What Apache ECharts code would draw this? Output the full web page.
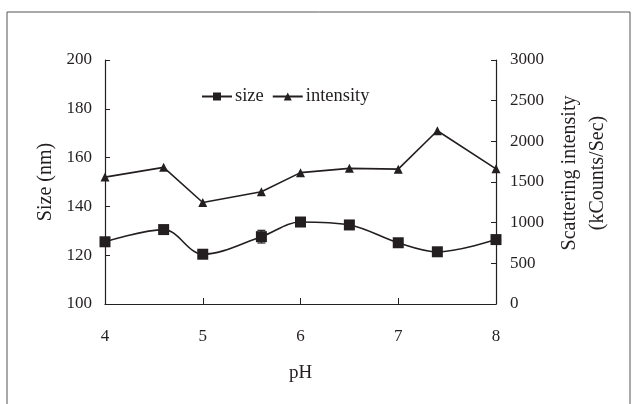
<!DOCTYPE html>
<html>
<head>
<meta charset="utf-8">
<script src="https://cdn.jsdelivr.net/npm/echarts@6/dist/echarts.min.js"></script>
<style>
  html, body { margin: 0; padding: 0; background: #fff; }
  #chart { width: 638px; height: 404px; }
</style>
</head>
<body>
<div id="chart"></div>
<script>
var phValues = [4, 4.6, 5, 5.6, 6, 6.5, 7, 7.4, 8];
var sizeValues = [125.5, 130.5, 120.4, 127.6, 133.6, 132.4, 125.1, 121.4, 126.4];
var sizeErrors = [0.6, 0.6, 0.8, 2.6, 0.6, 0.6, 0.6, 0.6, 0.6];
var intensityValues = [1560, 1680, 1248, 1380, 1615, 1668, 1658, 2130, 1662];
var xTicks = [4, 5, 6, 7, 8];

var font = 'Liberation Serif';
var ink = '#231f20';

var myChart = echarts.init(document.getElementById('chart'), null, { renderer: 'canvas' });

function pairs(xs, ys) {
  return xs.map(function(x, i) { return [x, ys[i]]; });
}

var errData = phValues.map(function(x, i) {
  return [x, sizeValues[i] - sizeErrors[i], sizeValues[i] + sizeErrors[i]];
});

var option = {
  animation: false,
  backgroundColor: '#fff',
  textStyle: { fontFamily: font, color: ink },
  graphic: [{
    type: 'rect',
    shape: { x: 7, y: 12, width: 623, height: 400 },
    style: { fill: 'none', stroke: '#555', lineWidth: 1 },
    silent: true
  }],
  legend: {
    left: 196,
    top: 82,
    itemGap: 8,
    itemWidth: 30,
    itemHeight: 10,
    textStyle: { fontFamily: font, fontSize: 18.5, color: ink, padding: [0, 0, 0, -2] },
    data: ['size', 'intensity']
  },
  grid: { left: 105, right: 142, top: 60, bottom: 100 },
  xAxis: {
    type: 'value',
    min: 4,
    max: 8,
    interval: 1,
    name: 'pH',
    nameLocation: 'middle',
    nameGap: 60,
    nameTextStyle: { fontFamily: font, fontSize: 19, color: ink },
    axisLine: { lineStyle: { color: ink, width: 1.2 } },
    axisTick: { inside: true, length: 6, lineStyle: { color: ink } },
    axisLabel: {
      fontFamily: font, fontSize: 17, color: ink, margin: 24,
      formatter: function(v) { return xTicks.indexOf(v) >= 0 ? String(v) : ''; }
    },
    splitLine: { show: false }
  },
  yAxis: [{
    type: 'value',
    min: 100,
    max: 200,
    interval: 20,
    name: 'Size (nm)',
    nameLocation: 'middle',
    nameGap: 48,
    nameTextStyle: { fontFamily: font, fontSize: 20, color: ink },
    axisLine: { show: true, lineStyle: { color: ink, width: 1.2 } },
    axisTick: { show: true, inside: true, length: 5, lineStyle: { color: ink } },
    axisLabel: { fontFamily: font, fontSize: 17, color: ink, margin: 13 },
    splitLine: { show: false }
  }, {
    type: 'value',
    min: 0,
    max: 3000,
    interval: 500,
    position: 'right',
    name: 'Scattering intensity\n(kCounts/Sec)',
    nameLocation: 'middle',
    nameGap: 60,
    nameRotate: -270,
    nameTextStyle: { fontFamily: font, fontSize: 20, color: ink, lineHeight: 28, padding: [0, 0, 0, 18] },
    axisLine: { show: true, lineStyle: { color: ink, width: 1.2 } },
    axisTick: { show: true, inside: true, length: 5, lineStyle: { color: ink } },
    axisLabel: {
      fontFamily: font, fontSize: 17, color: ink, margin: 14,
      formatter: function(v) { return String(v); }
    },
    splitLine: { show: false }
  }],
  series: [{
    name: 'size',
    type: 'line',
    yAxisIndex: 0,
    smooth: 0.35,
    symbol: 'rect',
    symbolSize: 11,
    itemStyle: { color: ink },
    lineStyle: { color: ink, width: 1.6 },
    data: pairs(phValues, sizeValues),
    z: 3
  }, {
    name: 'intensity',
    type: 'line',
    yAxisIndex: 1,
    symbol: 'triangle',
    symbolSize: 9,
    itemStyle: { color: ink },
    lineStyle: { color: ink, width: 1.6 },
    data: pairs(phValues, intensityValues),
    z: 3
  }, {
    name: 'sizeErr',
    type: 'custom',
    yAxisIndex: 0,
    data: errData,
    z: 2,
    renderItem: function(params, api) {
      var lo = api.coord([api.value(0), api.value(1)]);
      var hi = api.coord([api.value(0), api.value(2)]);
      var w = 4;
      var st = { stroke: ink, lineWidth: 1.2 };
      return {
        type: 'group',
        children: [
          { type: 'line', shape: { x1: lo[0], y1: lo[1], x2: hi[0], y2: hi[1] }, style: st },
          { type: 'line', shape: { x1: lo[0] - w, y1: lo[1], x2: lo[0] + w, y2: lo[1] }, style: st },
          { type: 'line', shape: { x1: hi[0] - w, y1: hi[1], x2: hi[0] + w, y2: hi[1] }, style: st }
        ]
      };
    }
  }]
};

myChart.setOption(option);
window.addEventListener('resize', myChart.resize);
</script>
</body>
</html>
